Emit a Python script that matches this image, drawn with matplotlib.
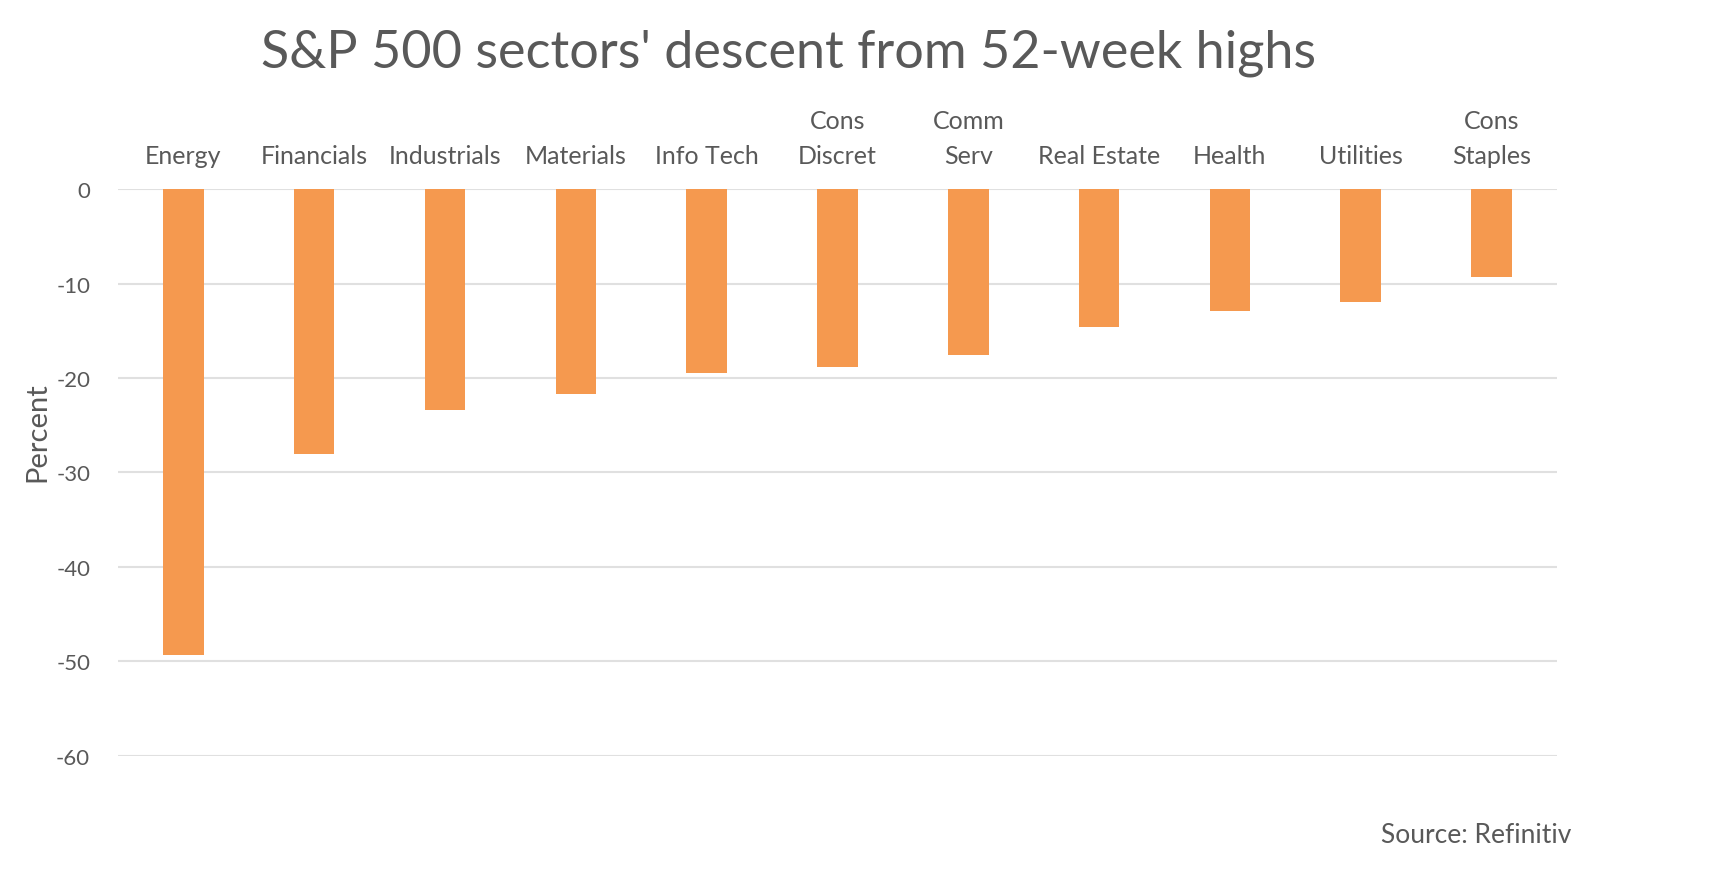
import matplotlib.pyplot as plt

plt.rcParams['font.family'] = ['Lato', 'DejaVu Sans']

# sectors and their drop from 52-week highs (percent)
sectors = ['Energy', 'Financials', 'Industrials', 'Materials', 'Info Tech',
           'Cons\nDiscret', 'Comm\nServ', 'Real Estate', 'Health',
           'Utilities', 'Cons\nStaples']
descent = [-49.3, -28.0, -23.4, -21.7, -19.5, -18.8, -17.6, -14.6, -12.9, -12.0, -9.3]
yticks = [0, -10, -20, -30, -40, -50, -60]

grey = '#595959'

fig = plt.figure(figsize=(17.29, 8.95), dpi=100)
ax = fig.add_axes([0.0682, 0.1542, 0.8323, 0.6335])

x = range(len(sectors))
ax.bar(x, descent, width=0.31, color='#F5994F', zorder=3)

ax.set_xlim(-0.5, len(sectors) - 0.5)
ax.set_ylim(-60, 0)
ax.set_yticks(yticks)
ax.set_yticklabels([str(v) for v in yticks])
ax.yaxis.grid(True, color='#e0e0e0', linewidth=1.5, zorder=0)

ax.xaxis.tick_top()
ax.set_xticks(list(x))
ax.set_xticklabels(sectors, fontsize=18, color=grey, linespacing=1.6)
ax.tick_params(axis='x', length=0, pad=16)
ax.tick_params(axis='y', length=0, labelsize=16, labelcolor=grey, pad=20)

for s in ax.spines.values():
    s.set_visible(False)

ax.set_ylabel('Percent', fontsize=21, color=grey)
ax.yaxis.set_label_coords(-0.047, 0.573)

fig.text(0.4558, 0.94, "S&P 500 sectors' descent from 52-week highs",
         fontsize=37.5, color=grey, ha='center', va='center')
fig.text(0.909, 0.067, 'Source: Refinitiv', fontsize=19, color=grey,
         ha='right', va='center')

fig.savefig('out.png', dpi=100, facecolor='white')
